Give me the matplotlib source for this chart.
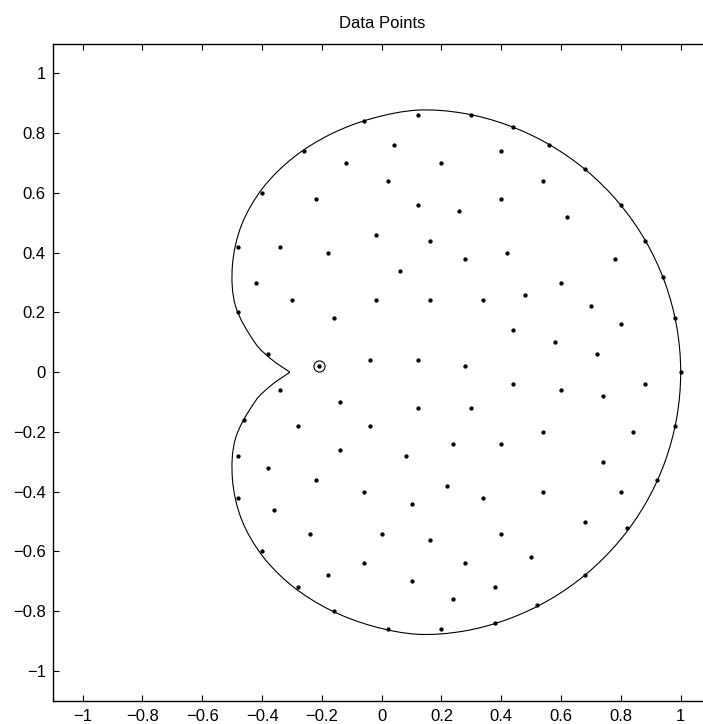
import matplotlib
matplotlib.use("Agg")
import numpy as np
import matplotlib.pyplot as plt
from matplotlib.path import Path
from matplotlib.patches import PathPatch
from matplotlib.ticker import FuncFormatter

plt.rcParams['font.family'] = ['Liberation Sans', 'DejaVu Sans']

# scattered sample sites
px = [0.12, -0.06, -0.26, -0.40, -0.48, -0.48, 0.04, -0.12, 0.20, 0.02, -0.22, 0.12,
      -0.02, 0.16, -0.34, -0.18, 0.06, -0.42, -0.30, -0.02, 0.16, -0.16,
      0.30, 0.44, 0.56, 0.68, 0.80, 0.88, 0.94, 0.98, 0.40, 0.54, 0.40, 0.26,
      0.62, 0.28, 0.42, 0.78, 0.60, 0.48, 0.34, 0.70, 0.80, 0.44, 0.58,
      0.72, 0.28, 1.00, 0.44, 0.60, 0.74, 0.88, 0.30, 0.54, 0.84, 0.98, 0.24,
      0.40, 0.74, 0.22, 0.34, 0.54, 0.80, 0.92, 0.16, 0.40, 0.68, 0.82, 0.28,
      0.50, 0.68,
      -0.38, -0.04, 0.12, -0.34, -0.14, 0.12, -0.46, -0.28, -0.04, -0.14, 0.08,
      -0.48, -0.38, -0.22, -0.06, 0.10, -0.48, -0.36, -0.24, 0.00, -0.40, -0.06,
      -0.18,
      0.10, -0.28, 0.38, 0.24, -0.16, 0.52, 0.02, 0.20, 0.38]
py = [0.86, 0.84, 0.74, 0.60, 0.42, 0.20, 0.76, 0.70, 0.70, 0.64, 0.58, 0.56,
      0.46, 0.44, 0.42, 0.40, 0.34, 0.30, 0.24, 0.24, 0.24, 0.18,
      0.86, 0.82, 0.76, 0.68, 0.56, 0.44, 0.32, 0.18, 0.74, 0.64, 0.58, 0.54,
      0.52, 0.38, 0.40, 0.38, 0.30, 0.26, 0.24, 0.22, 0.16, 0.14, 0.10,
      0.06, 0.02, 0.00, -0.04, -0.06, -0.08, -0.04, -0.12, -0.20, -0.20, -0.18, -0.24,
      -0.24, -0.30, -0.38, -0.42, -0.40, -0.40, -0.36, -0.56, -0.54, -0.50, -0.52, -0.64,
      -0.62, -0.68,
      0.06, 0.04, 0.04, -0.06, -0.10, -0.12, -0.16, -0.18, -0.18, -0.26, -0.28,
      -0.28, -0.32, -0.36, -0.40, -0.44, -0.42, -0.46, -0.54, -0.54, -0.60, -0.64,
      -0.68,
      -0.70, -0.72, -0.72, -0.76, -0.80, -0.78, -0.86, -0.86, -0.84]

# highlighted site
qx, qy = -0.21, 0.02

# boundary: radius seen from (0.12, 0) at each polar angle, same above and below
centre_x = 0.12
ang_deg = [0, 10, 20, 30, 40, 50, 60, 70, 80, 90, 100, 110, 120, 130, 140,
           150, 160, 170, 175, 180]
rad = [0.88, 0.88, 0.88, 0.88, 0.88, 0.88, 0.88, 0.88, 0.88, 0.877, 0.863,
       0.848, 0.830, 0.805, 0.768, 0.715, 0.648, 0.55, 0.49, 0.427]

ticks = [-1, -0.8, -0.6, -0.4, -0.2, 0, 0.2, 0.4, 0.6, 0.8, 1]


def smooth_path(xs, ys):
    # cubic Bezier pieces through every outline vertex (chord-length tangents)
    p = np.column_stack([xs, ys])
    d = np.hypot(*np.diff(p, axis=0).T)
    m = np.zeros_like(p)
    m[1:-1] = (p[2:] - p[:-2]) / (d[:-1] + d[1:])[:, None]
    m[0] = (p[1] - p[0]) / d[0]
    m[-1] = (p[-1] - p[-2]) / d[-1]
    verts = [p[0]]
    codes = [Path.MOVETO]
    for i in range(len(p) - 1):
        verts += [p[i] + m[i] * d[i] / 3, p[i + 1] - m[i + 1] * d[i] / 3, p[i + 1]]
        codes += [Path.CURVE4] * 3
    return Path(verts, codes)


# walk from the notch tip below, round the right side, back to the tip above
phi = np.radians(np.concatenate([-np.array(ang_deg[::-1]), ang_deg[1:]]))
r = np.concatenate([rad[::-1], rad[1:]])
bx = centre_x + r * np.cos(phi)
by = r * np.sin(phi)

fig = plt.figure(figsize=(7.03, 7.24), dpi=100)
ax = fig.add_axes([0.0751, 0.0319, 0.9357, 0.908])

ax.add_patch(PathPatch(smooth_path(bx, by), facecolor='none',
                       edgecolor='black', linewidth=0.8))
ax.plot(px, py, 'o', color='black', markersize=3.1, markeredgewidth=0)
ax.plot(qx, qy, 'o', color='black', markersize=3.1, markeredgewidth=0)
ax.plot(qx, qy, 'o', markerfacecolor='none', markeredgecolor='black',
        markersize=8, markeredgewidth=0.8)

ax.set_xlim(-1.1, 1.1)
ax.set_ylim(-1.1, 1.1)
ax.set_xticks(ticks)
ax.set_yticks(ticks)
fmt = FuncFormatter(lambda v, pos: ('%g' % v).replace('-', '\u2212'))
ax.xaxis.set_major_formatter(fmt)
ax.yaxis.set_major_formatter(fmt)
ax.tick_params(direction='in', top=True, right=True, length=4.5, width=0.8,
               labelsize=12)
ax.tick_params(axis='x', pad=6)
ax.tick_params(axis='y', pad=5)
for s in ax.spines.values():
    s.set_linewidth(1.0)

ax.set_title('Data Points', fontsize=12, pad=11)

fig.savefig('out.png', dpi=100)
